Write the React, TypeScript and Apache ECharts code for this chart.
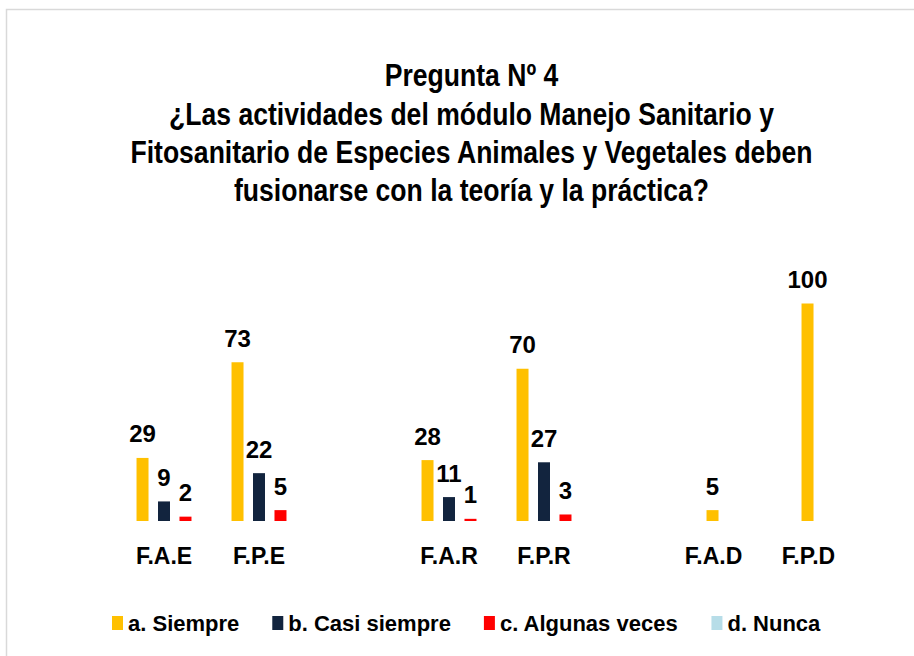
import React, { useEffect, useRef } from "react";
import * as echarts from "echarts";

const titleLines = [
  "Pregunta Nº 4",
  "¿Las actividades del módulo Manejo Sanitario y",
  "Fitosanitario de Especies Animales y Vegetales deben",
  "fusionarse con la teoría y la práctica?",
];
const categories = ["F.A.E", "F.P.E", "", "F.A.R", "F.P.R", "", "F.A.D", "F.P.D"];
const seriesNames = ["a. Siempre", "b. Casi siempre", "c. Algunas veces", "d. Nunca"];
const siempre = [29, 73, null, 28, 70, null, 5, 100];
const casiSiempre = [9, 22, null, 11, 27, null, null, null];
const algunasVeces = [2, 5, null, 1, 3, null, null, null];
const nunca = [null, null, null, null, null, null, null, null];

const FONT = "'Liberation Sans Narrow', 'Arial Narrow', 'Liberation Sans', Arial, sans-serif";
const COLORS = ["#FFC000", "#12243E", "#FF0000", "#B7DDE8"];

export default function App() {
  const ref = useRef<HTMLDivElement>(null);
  useEffect(() => {
    if (!ref.current) return;
    const chart = echarts.init(ref.current, null, { renderer: "svg" });
    const labelStyle = {
      show: true,
      position: "top",
      distance: 12,
      fontFamily: FONT,
      fontWeight: "bold",
      fontSize: 24,
      color: "#000",
    };
    const mk = (name: string, data: (number | null)[], i: number) => ({
      name,
      type: "bar",
      data,
      barWidth: 12,
      barGap: "79%",
      itemStyle: { color: COLORS[i] },
      label: labelStyle,
    });
    chart.setOption({
      animation: false,
      backgroundColor: "#fff",
      color: COLORS,
      graphic: [
        {
          type: "rect",
          shape: { x: 6.5, y: 9.5, width: 940, height: 700 },
          style: { fill: "none", stroke: "#d9d9d9", lineWidth: 1.5 },
          silent: true,
        },
        ...titleLines.map((line, i) => ({
          type: "text",
          x: 471.5,
          y: 75 + i * 38.3,
          scaleX: 0.83,
          silent: true,
          style: {
            text: line,
            fontFamily: FONT,
            fontWeight: "bold",
            fontSize: 32,
            fill: "#000",
            textAlign: "center",
            textVerticalAlign: "middle",
          },
        })),
      ],
      legend: {
        data: seriesNames,
        left: 112,
        top: 612,
        padding: 0,
        itemWidth: 11,
        itemHeight: 14,
        itemGap: 33,
        icon: "rect",
        textStyle: {
          fontFamily: FONT,
          fontWeight: "bold",
          fontSize: 22,
          color: "#000",
        },
      },
      grid: { left: 116.5, right: 37.5, top: 260, bottom: 135 },
      xAxis: [
        {
          type: "category",
          data: categories,
          axisLine: { show: false },
          axisTick: { show: false },
          axisLabel: {
            interval: 0,
            margin: 23,
            fontFamily: FONT,
            fontWeight: "bold",
            fontSize: 23,
            color: "#000",
            formatter: (v: string, i: number) => (i >= 6 ? `{s|${v}}` : v),
            rich: {
              s: {
                fontFamily: FONT,
                fontWeight: "bold",
                fontSize: 23,
                color: "#000",
                padding: [0, 41, 0, 0],
              },
            },
          },
        },
        { type: "category", data: categories, show: false },
      ],
      yAxis: {
        type: "value",
        min: 0,
        max: 120,
        show: false,
        splitLine: { show: false },
      },
      series: [
        mk(seriesNames[0], siempre, 0),
        mk(seriesNames[1], casiSiempre, 1),
        mk(seriesNames[2], algunasVeces, 2),
        { ...mk(seriesNames[3], nunca, 3), xAxisIndex: 1 },
      ],
    });
    return () => chart.dispose();
  }, []);
  return (
    <div
      ref={ref}
      style={{ position: "fixed", left: 0, top: 0, width: 914, height: 656 }}
    />
  );
}
